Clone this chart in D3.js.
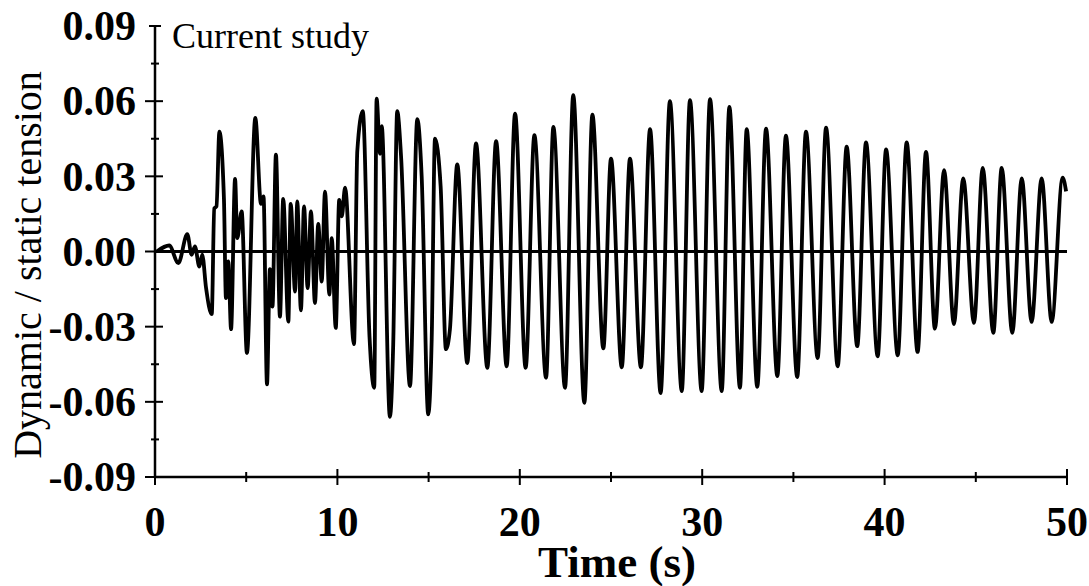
<!DOCTYPE html>
<html>
<head>
<meta charset="utf-8">
<script src="https://cdn.jsdelivr.net/npm/d3@7"></script>
<style>
  body { margin: 0; background: #fff; }
  svg { display: block; }
</style>
</head>
<body>
<script>
// turning points of the tension record: time (s), dynamic / static tension
var times = [0.1, 0.78, 1.28, 1.77, 2.01, 2.19, 2.43, 2.59, 2.80, 3.11, 3.25, 3.37, 3.53, 3.78, 3.89, 4.02, 4.17, 4.39, 4.51, 4.75,
  5.04, 5.50, 5.81, 5.95, 6.14, 6.30, 6.44, 6.63, 6.85, 7.03, 7.31, 7.44, 7.68, 7.80, 8.00, 8.17, 8.37, 8.55, 8.77, 8.95,
  9.14, 9.32, 9.56, 9.69, 9.91, 10.10, 10.24, 10.42, 10.91, 11.09, 11.39, 11.76, 12.02, 12.15, 12.34, 12.43, 12.88, 13.06, 13.28, 13.49,
  13.98, 14.38, 14.62, 14.98, 15.17, 15.35, 15.66, 15.95, 16.17, 16.57, 17.12, 17.60, 18.22, 18.70, 19.28, 19.74, 20.32, 20.80, 21.44, 21.84,
  22.48, 22.93, 23.54, 23.98, 24.58, 25.00, 25.59, 26.04, 26.64, 27.14, 27.72, 28.23, 28.88, 29.33, 29.97, 30.43, 31.07, 31.49, 32.07, 32.44,
  33.02, 33.50, 34.12, 34.59, 35.21, 35.69, 36.33, 36.79, 37.43, 37.92, 38.50, 38.98, 39.62, 40.08, 40.72, 41.21, 41.81, 42.27, 42.76, 43.26,
  43.80, 44.31, 44.90, 45.38, 45.96, 46.42, 47.00, 47.52, 48.06, 48.61, 49.16, 49.76, 49.95];
var tension = [0, 0.0024, -0.0046, 0.0069, -0.0013, 0.002, -0.006, -0.0013, -0.0146, -0.025, 0.0172, 0.018, 0.0478, 0.021, -0.0186, -0.004, -0.031, 0.029, 0.0053, 0.016,
  -0.0405, 0.0533, 0.019, 0.022, -0.053, -0.007, -0.022, 0.0387, -0.026, 0.021, -0.028, 0.019, -0.016, 0.020, -0.0235, 0.018, -0.0146, 0.016, -0.0206, 0.011,
  -0.012, 0.0239, -0.0172, 0.0053, -0.0305, 0.0206, 0.014, 0.0255, -0.037, 0.040, 0.056, -0.034, -0.0544, 0.061, 0.039, 0.050, -0.066, -0.037, 0.056, 0.038,
  -0.0537, 0.0528, 0.030, -0.065, -0.035, 0.045, 0.026, -0.039, -0.031, 0.0348, -0.0445, 0.0431, -0.0464, 0.044, -0.0458, 0.055, -0.0464, 0.0464, -0.0504, 0.0497,
  -0.0544, 0.0624, -0.0604, 0.0546, -0.0387, 0.0371, -0.0462, 0.0371, -0.0462, 0.0488, -0.0565, 0.060, -0.0557, 0.0604, -0.0557, 0.0608, -0.0557, 0.0577, -0.0544, 0.0488,
  -0.054, 0.049, -0.0497, 0.0462, -0.0501, 0.0478, -0.0425, 0.0494, -0.0458, 0.0418, -0.0378, 0.0435, -0.0418, 0.0407, -0.0414, 0.0435, -0.0401, 0.0398, -0.0308, 0.0325,
  -0.029, 0.0292, -0.0285, 0.0334, -0.0325, 0.0334, -0.0325, 0.0292, -0.0281, 0.0292, -0.0281, 0.0295, 0.024];

var xMajor = [0, 10, 20, 30, 40, 50];
var xMinor = [5, 15, 25, 35, 45];
var yMajor = [-0.09, -0.06, -0.03, 0, 0.03, 0.06];
var yMinor = [-0.075, -0.045, -0.015, 0.015, 0.045, 0.075];
var yLabels = [-0.09, -0.06, -0.03, 0, 0.03, 0.06, 0.09];

var width = 1089;
var height = 586;
var serif = "'Liberation Serif', 'DejaVu Serif', serif";

var svg = d3.select("body").append("svg")
    .attr("width", width)
    .attr("height", height)
    .style("background", "#fff");

var x = d3.scaleLinear().domain([0, 50]).range([155, 1067]);
var y = d3.scaleLinear().domain([-0.09, 0.09]).range([477, 26]);

var data = times.map(function(t, i) { return { t: t, v: tension[i] }; });

// axis lines
svg.append("line")
    .attr("x1", x(0)).attr("x2", x(0))
    .attr("y1", y(0.09)).attr("y2", y(-0.09))
    .attr("stroke", "#000").attr("stroke-width", 2.5);
svg.append("line")
    .attr("x1", x(0)).attr("x2", x(50))
    .attr("y1", y(-0.09)).attr("y2", y(-0.09))
    .attr("stroke", "#000").attr("stroke-width", 2.5);
// little cap at the top of the y axis
svg.append("line")
    .attr("x1", x(0) - 6).attr("x2", x(0) + 6)
    .attr("y1", y(0.09)).attr("y2", y(0.09))
    .attr("stroke", "#000").attr("stroke-width", 2);

// zero line
svg.append("line")
    .attr("x1", x(0)).attr("x2", x(50))
    .attr("y1", y(0)).attr("y2", y(0))
    .attr("stroke", "#000").attr("stroke-width", 3);

// ticks, crossing the axes
svg.selectAll(".ymaj").data(yMajor).enter().append("line")
    .attr("x1", x(0) - 10).attr("x2", x(0) + 8)
    .attr("y1", d => y(d)).attr("y2", d => y(d))
    .attr("stroke", "#000").attr("stroke-width", 2);
svg.selectAll(".ymin").data(yMinor).enter().append("line")
    .attr("x1", x(0) - 4).attr("x2", x(0) + 4)
    .attr("y1", d => y(d)).attr("y2", d => y(d))
    .attr("stroke", "#000").attr("stroke-width", 2);
svg.selectAll(".xmaj").data(xMajor).enter().append("line")
    .attr("x1", d => x(d)).attr("x2", d => x(d))
    .attr("y1", y(-0.09) - 8).attr("y2", y(-0.09) + 8)
    .attr("stroke", "#000").attr("stroke-width", 2);
svg.selectAll(".xmin").data(xMinor).enter().append("line")
    .attr("x1", d => x(d)).attr("x2", d => x(d))
    .attr("y1", y(-0.09) - 5).attr("y2", y(-0.09) + 5)
    .attr("stroke", "#000").attr("stroke-width", 2);

// tick labels
svg.selectAll(".ylab").data(yLabels).enter().append("text")
    .attr("x", x(0) - 19)
    .attr("y", d => y(d))
    .attr("dy", "0.34em")
    .attr("text-anchor", "end")
    .style("font-family", serif)
    .style("font-weight", "bold")
    .style("font-size", "42px")
    .text(d => d3.format(".2f")(d).replace("−", "-"));

svg.selectAll(".xlab").data(xMajor).enter().append("text")
    .attr("x", d => x(d))
    .attr("y", 536)
    .attr("text-anchor", "middle")
    .style("font-family", serif)
    .style("font-weight", "bold")
    .style("font-size", "42px")
    .text(d => d);

// axis titles
svg.append("text")
    .attr("x", x(25) + 6)
    .attr("y", 577)
    .attr("text-anchor", "middle")
    .style("font-family", serif)
    .style("font-weight", "bold")
    .style("font-size", "45px")
    .text("Time (s)");

svg.append("text")
    .attr("transform", "translate(41,265) rotate(-90)")
    .attr("text-anchor", "middle")
    .style("font-family", serif)
    .style("font-size", "40px")
    .text("Dynamic / static tension");

svg.append("text")
    .attr("x", 172)
    .attr("y", 48)
    .style("font-family", serif)
    .style("font-size", "36px")
    .text("Current study");

// the tension record
var line = d3.line()
    .x(d => x(d.t))
    .y(d => y(d.v))
    .curve(d3.curveMonotoneX);

svg.append("path")
    .datum(data)
    .attr("d", line)
    .attr("fill", "none")
    .attr("stroke", "#000")
    .attr("stroke-width", 3.8)
    .attr("stroke-linejoin", "round");
</script>
</body>
</html>
